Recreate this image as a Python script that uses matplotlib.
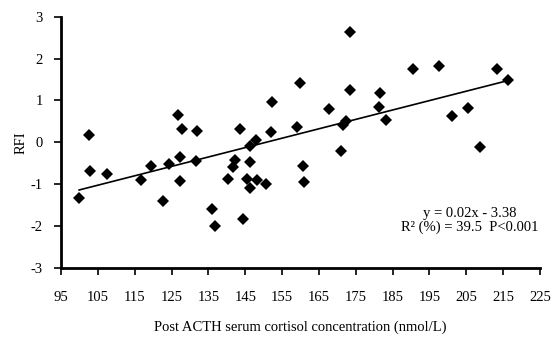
import numpy as np
import matplotlib
matplotlib.use("Agg")
import matplotlib.pyplot as plt

# post ACTH cortisol (nmol/L) and RFI
cortisol = [99.9, 102.7, 102.9, 107.4, 116.8, 119.4, 122.8, 124.4, 126.8, 127.8,
            127.3, 127.3, 132.0, 131.6, 135.9, 136.8, 140.2, 141.8, 142.2, 143.6,
            144.3, 145.4, 146.3, 146.3, 146.3, 147.9, 148.1, 150.6, 151.9, 152.2,
            159.1, 159.9, 160.6, 161.0, 167.6, 171.0, 171.6, 172.3, 173.4, 173.4,
            181.3, 181.6, 183.2, 190.6, 197.6, 201.2, 205.5, 208.8, 213.2, 216.4]
rfi = [-1.32, 0.18, -0.67, -0.75, -0.90, -0.57, -1.39, -0.52, 0.65, 0.32,
       -0.35, -0.93, 0.27, -0.43, -1.59, -1.99, -0.86, -0.58, -0.42, 0.32,
       -1.83, -0.87, -0.08, -0.46, -1.09, 0.05, -0.89, -1.00, 0.24, 0.97,
       0.38, 1.41, -0.56, -0.94, 0.80, -0.20, 0.42, 0.50, 1.25, 2.63,
       0.84, 1.19, 0.54, 1.75, 1.83, 0.63, 0.82, -0.10, 1.75, 1.49]

# trend line as drawn in the figure
slope = 0.0224
intercept = -3.37

xticks = list(range(95, 226, 10))
yticks = list(range(-3, 4))

plt.rcParams['font.family'] = ['Liberation Serif', 'DejaVu Serif']
plt.rcParams['axes.unicode_minus'] = False

fig = plt.figure(figsize=(5.55, 3.38), dpi=100)
ax = fig.add_axes([0.110, 0.206, 0.863, 0.745])

x = np.array(cortisol)
y = np.array(rfi)
ax.plot(x, y, 'D', color='black', markersize=6.2, markeredgewidth=0)

xl = np.array([x.min(), x.max()])
ax.plot(xl, slope * xl + intercept, color='black', linewidth=1.2)

ax.set_xlim(95, 225)
ax.set_ylim(-3, 3)
ax.set_xticks(xticks)
ax.set_yticks(yticks)
ax.tick_params(labelsize=10.5, width=1.2, length=5, direction='out')
ax.tick_params(axis='x', pad=11)
ax.tick_params(axis='y', pad=8)
for s in ['top', 'right']:
    ax.spines[s].set_visible(False)
for s in ['left', 'bottom']:
    ax.spines[s].set_linewidth(2)

ax.set_xlabel('Post ACTH serum cortisol concentration (nmol/L)', fontsize=10.5, labelpad=12)
ax.set_ylabel('RFI', fontsize=10.5, labelpad=2)

ax.text(0.854, 0.19, 'y = 0.02x - 3.38\nR\u00b2 (%) = 39.5  P<0.001',
        transform=ax.transAxes, ha='center', va='center', fontsize=10.5,
        multialignment='center', linespacing=1.0)

fig.savefig('out.png', dpi=100)
